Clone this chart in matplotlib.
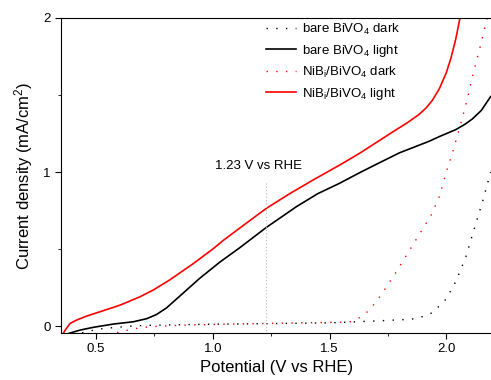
import matplotlib
matplotlib.use("Agg")
import matplotlib.pyplot as plt
from matplotlib.ticker import MultipleLocator

plt.rcParams["font.family"] = ["Liberation Sans", "DejaVu Sans"]
plt.rcParams["mathtext.fontset"] = "custom"
plt.rcParams["mathtext.rm"] = "Liberation Sans"
plt.rcParams["mathtext.it"] = "Liberation Sans:italic"

# bare BiVO4, dark
bare_dark_v = [0.40, 0.43, 0.51, 0.588, 0.674, 0.759, 0.944, 1.30, 1.51, 1.71,
               1.835, 1.878, 1.941, 1.999, 2.041, 2.084, 2.12, 2.155, 2.19]
bare_dark_j = [-0.06, -0.047, -0.02, -0.008, 0.002, 0.006, 0.011, 0.017, 0.021, 0.034,
               0.043, 0.05, 0.087, 0.175, 0.29, 0.45, 0.634, 0.807, 1.0]

# bare BiVO4, light
bare_light_v = [0.385, 0.432, 0.489, 0.574, 0.66, 0.717, 0.759, 0.802, 0.859, 0.944,
                1.03, 1.115, 1.229, 1.358, 1.45, 1.543, 1.628, 1.70, 1.80, 1.927,
                1.97, 2.04, 2.08, 2.112, 2.15, 2.19]
bare_light_j = [-0.047, -0.026, -0.008, 0.013, 0.028, 0.048, 0.075, 0.118, 0.195, 0.31,
                0.415, 0.508, 0.64, 0.775, 0.86, 0.927, 0.995, 1.05, 1.125, 1.20,
                1.23, 1.275, 1.31, 1.345, 1.40, 1.49]

# NiBi/BiVO4, dark
nib_dark_v = [0.55, 0.574, 0.61, 0.65, 0.73, 0.872, 1.016, 1.23, 1.585, 1.61, 1.635,
              1.671, 1.72, 1.785, 1.87, 1.935, 1.97, 2.0, 2.027, 2.048, 2.07, 2.091,
              2.107, 2.127, 2.148, 2.167, 2.18]
nib_dark_j = [-0.06, -0.047, -0.037, -0.02, -0.004, 0.006, 0.011, 0.017, 0.026, 0.04, 0.06,
              0.104, 0.2, 0.35, 0.56, 0.72, 0.84, 1.0, 1.128, 1.24, 1.36, 1.478,
              1.59, 1.71, 1.83, 1.95, 2.02]

# NiBi/BiVO4, light
nib_light_v = [0.36, 0.368, 0.389, 0.417, 0.46, 0.517, 0.603, 0.688, 0.745, 0.816,
               0.873, 0.916, 1.0, 1.044, 1.101, 1.229, 1.33, 1.429, 1.543, 1.628,
               1.714, 1.77, 1.828, 1.88, 1.913, 1.94, 1.97, 2.0, 2.02, 2.04, 2.056, 2.065]
nib_light_j = [-0.047, -0.026, 0.017, 0.039, 0.065, 0.093, 0.136, 0.19, 0.234, 0.30,
               0.36, 0.405, 0.50, 0.555, 0.62, 0.764, 0.86, 0.948, 1.045, 1.121,
               1.205, 1.26, 1.315, 1.37, 1.415, 1.465, 1.54, 1.645, 1.74, 1.86, 1.98, 2.06]

fig = plt.figure(figsize=(4.91, 3.8), dpi=100)
ax = fig.add_axes([61 / 491, 1 - 333 / 380, 432 / 491, 315 / 380])

dots = (0, (1, 6))
ax.plot(bare_dark_v, bare_dark_j, color="black", lw=1.0, linestyle=dots,
        label="bare BiVO$_4$ dark")
ax.plot(bare_light_v, bare_light_j, color="black", lw=1.2,
        label="bare BiVO$_4$ light")
ax.plot(nib_dark_v, nib_dark_j, color="red", lw=1.0, linestyle=dots,
        label=r"NiB$_\mathrm{i}$/BiVO$_4$ dark")
ax.plot(nib_light_v, nib_light_j, color="red", lw=1.2,
        label=r"NiB$_\mathrm{i}$/BiVO$_4$ light")

ax.plot([1.23, 1.23], [-0.05, 0.94], color="#bbbbbb", lw=0.8, linestyle=(0, (1, 2)))
ax.text(1.197, 1.04, "1.23 V vs RHE", ha="center", va="center", fontsize=9.5)

ax.set_xlim(0.35, 2.2)
ax.set_ylim(-0.045, 2.0)
ax.xaxis.set_major_locator(MultipleLocator(0.5))
ax.xaxis.set_minor_locator(MultipleLocator(0.25))
ax.yaxis.set_major_locator(MultipleLocator(1))
ax.yaxis.set_minor_locator(MultipleLocator(0.5))
ax.tick_params(which="both", direction="out", labelsize=9.5)
ax.tick_params(which="major", length=4)
ax.tick_params(which="minor", length=2.5)

ax.set_xlabel("Potential (V vs RHE)", fontsize=12, labelpad=3)
ax.set_ylabel("Current density (mA/cm$^2$)", fontsize=12, labelpad=6)

ax.legend(loc="upper left", bbox_to_anchor=(266 / 491, 1 - 22 / 380),
          bbox_transform=fig.transFigure, frameon=False, fontsize=9.5,
          handlelength=2.3, handletextpad=0.4, labelspacing=0.45,
          borderpad=0, borderaxespad=0)

fig.savefig("out.png", dpi=100)
